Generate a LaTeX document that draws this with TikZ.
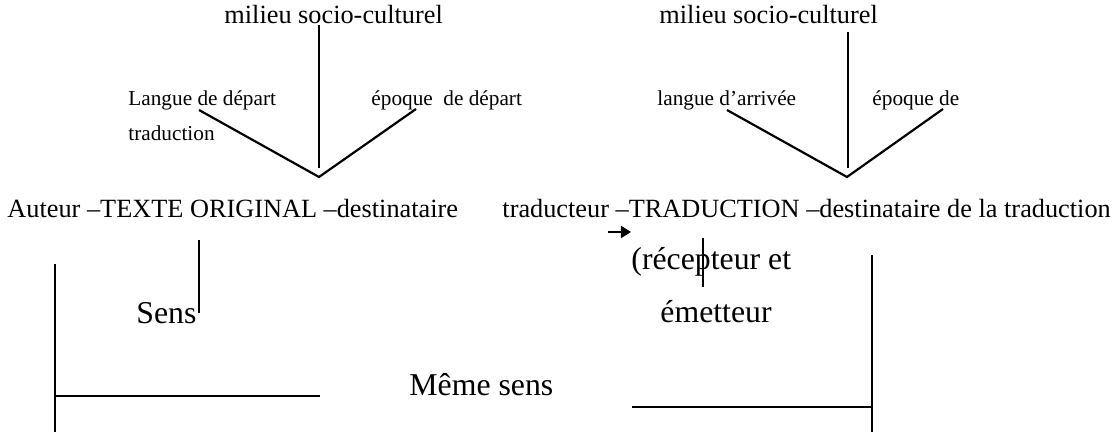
\documentclass[tikz,border=0pt]{standalone}
\usepackage{fontspec}
\setmainfont{Liberation Serif}
\usetikzlibrary{arrows.meta}

\begin{document}
\begin{tikzpicture}[x=0.4563pt, y=-0.4563pt,
    trait/.style={line width=1pt},
    texte/.style={inner sep=0pt, anchor=base west, font=\fontsize{12}{14}\selectfont},
    petit/.style={inner sep=0pt, anchor=base west, font=\fontsize{9.7}{11}\selectfont},
    grand/.style={inner sep=0pt, anchor=base west, font=\fontsize{14.5}{17}\selectfont}]
  \useasboundingbox (0,0) rectangle (1118,434);

  % Texte original : milieu, langue, epoque
  \node[texte] (milieuA) at (224,24) {milieu socio-culturel};
  \node[petit] (langueA) at (128,106) {Langue de départ};
  \node[petit] (tradA) at (128,141) {traduction};
  \node[petit] (epoqueA) at (371,106) {époque\ \ de départ};
  \coordinate (hautA) at (319,25);
  \coordinate (basA) at (319,168);
  \coordinate (gaucheA) at (199,110);
  \coordinate (sommetA) at (319,177);
  \coordinate (droiteA) at (416,109);
  \draw[trait] (hautA) -- (basA);
  \draw[trait] (gaucheA) -- (sommetA) -- (droiteA);

  % Traduction : milieu, langue, epoque
  \node[texte] (milieuB) at (659,24) {milieu socio-culturel};
  \node[petit] (langueB) at (657,106) {langue d’arrivée};
  \node[petit] (epoqueB) at (872,106) {époque de};
  \coordinate (hautB) at (848,32);
  \coordinate (basB) at (848,168);
  \coordinate (gaucheB) at (727,110);
  \coordinate (sommetB) at (847,177);
  \coordinate (droiteB) at (943,109);
  \draw[trait] (hautB) -- (basB);
  \draw[trait] (gaucheB) -- (sommetB) -- (droiteB);

  % Chaine de communication
  \node[texte] (auteur) at (7,218) {Auteur –TEXTE ORIGINAL –destinataire};
  \node[texte] (traducteur) at (502,218) {traducteur –TRADUCTION –destinataire de la traduction};
  \coordinate (flecheA) at (608,232);
  \coordinate (flecheB) at (631,232);
  \draw[line width=0.8pt, -{Triangle[length=4.6pt, width=5.5pt]}] (flecheA) -- (flecheB);

  % Sens
  \node[grand] (sens) at (136,324) {Sens};
  \coordinate (sensH) at (199,240);
  \coordinate (sensB) at (199,313);
  \draw[trait] (sensH) -- (sensB);

  % Recepteur et emetteur
  \node[grand] (recepteur) at (631,270) {(récepteur et};
  \node[grand] (emetteur) at (660,323) {émetteur};
  \coordinate (recH) at (703,238);
  \coordinate (recB) at (703,287);
  \draw[trait] (recH) -- (recB);

  % Meme sens
  \node[grand] (meme) at (409,396) {Même sens};
  \coordinate (gH) at (55,264);
  \coordinate (gB) at (55,432);
  \coordinate (gM) at (55,396);
  \coordinate (gD) at (320,396);
  \draw[trait] (gH) -- (gB);
  \draw[trait] (gM) -- (gD);
  \coordinate (dH) at (872,255);
  \coordinate (dB) at (872,432);
  \coordinate (dM) at (872,407);
  \coordinate (dG) at (632,407);
  \draw[trait] (dH) -- (dB);
  \draw[trait] (dG) -- (dM);
\end{tikzpicture}
\end{document}
